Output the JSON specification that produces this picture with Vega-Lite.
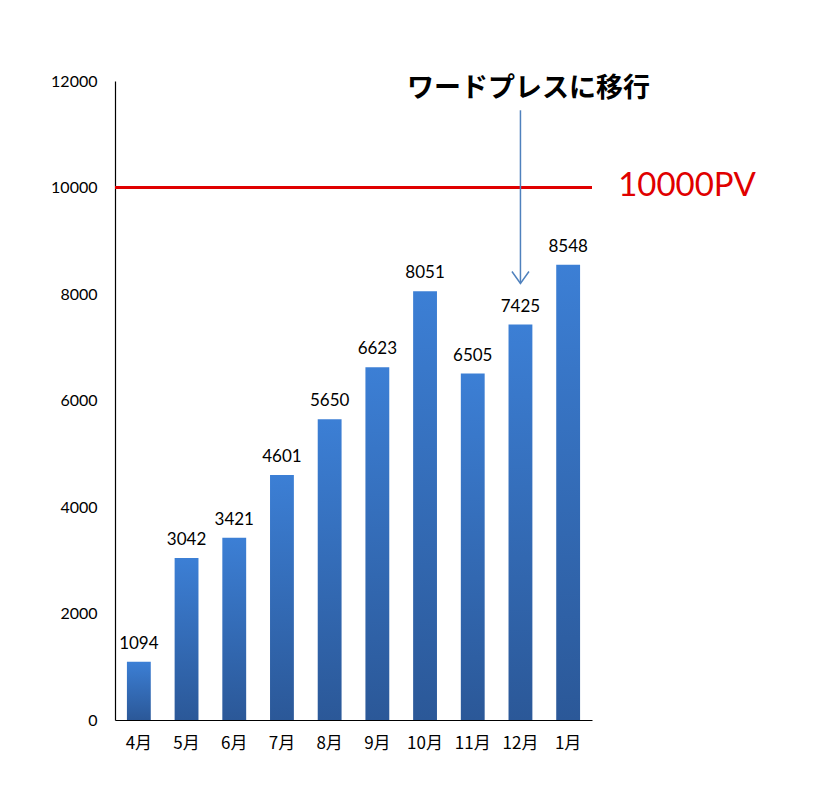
{
  "$schema": "https://vega.github.io/schema/vega-lite/v6.json",
  "width": 477,
  "height": 639,
  "autosize": "none",
  "padding": {"left": 115, "top": 81, "right": 223, "bottom": 83},
  "background": "white",
  "config": {"view": {"stroke": null}, "font": "Lato, Noto Sans CJK JP"},
  "datasets": {
    "pv": [
      {"month": "4月", "pv": 1094},
      {"month": "5月", "pv": 3042},
      {"month": "6月", "pv": 3421},
      {"month": "7月", "pv": 4601},
      {"month": "8月", "pv": 5650},
      {"month": "9月", "pv": 6623},
      {"month": "10月", "pv": 8051},
      {"month": "11月", "pv": 6505},
      {"month": "12月", "pv": 7425},
      {"month": "1月", "pv": 8548}
    ],
    "target": [{"month": "1月", "value": 10000, "label": "10000PV"}],
    "note": [{"month": "12月", "top": 11450, "bottom": 8200, "titley": 11850, "label": "ワードプレスに移行"}]
  },
  "layer": [
    {
      "data": {"name": "pv"},
      "mark": {
        "type": "bar",
        "color": {
          "gradient": "linear", "x1": 0, "y1": 0, "x2": 0, "y2": 1,
          "stops": [{"offset": 0, "color": "#3C7FD5"}, {"offset": 1, "color": "#2B5898"}]
        }
      },
      "encoding": {
        "x": {
          "field": "month", "type": "nominal", "sort": null,
          "scale": {"paddingInner": 0.5, "paddingOuter": 0.25},
          "axis": {"title": null, "labelAngle": 0, "ticks": false, "labelPadding": 15, "labelFontSize": 17, "labelColor": "#000", "domainColor": "#000", "domainWidth": 1.2, "labelFont": "Noto Sans CJK JP"}
        },
        "y": {
          "field": "pv", "type": "quantitative",
          "scale": {"domain": [0, 12000]},
          "axis": {"title": null, "values": [0, 2000, 4000, 6000, 8000, 10000, 12000], "format": "d", "ticks": false, "grid": false, "labelPadding": 18, "labelFontSize": 16, "labelColor": "#000", "domainColor": "#000", "domainWidth": 1.2}
        }
      }
    },
    {
      "data": {"name": "pv"},
      "mark": {"type": "text", "baseline": "bottom", "dy": -9, "fontSize": 17, "color": "#000"},
      "encoding": {
        "x": {"field": "month", "type": "nominal", "sort": null},
        "y": {"field": "pv", "type": "quantitative"},
        "text": {"field": "pv", "type": "quantitative", "format": "d"}
      }
    },
    {
      "data": {"name": "target"},
      "mark": {"type": "rule", "color": "#E00000", "strokeWidth": 3},
      "encoding": {"y": {"field": "value", "type": "quantitative"}}
    },
    {
      "data": {"name": "target"},
      "mark": {"type": "text", "align": "left", "baseline": "middle", "dx": 50, "dy": -2, "fontSize": 33, "color": "#E00000"},
      "encoding": {
        "x": {"field": "month", "type": "nominal", "sort": null},
        "y": {"field": "value", "type": "quantitative"},
        "text": {"field": "label"}
      }
    },
    {
      "data": {"name": "note"},
      "mark": {"type": "rule", "color": "#4F81BD", "strokeWidth": 1.5},
      "encoding": {
        "x": {"field": "month", "type": "nominal", "sort": null},
        "y": {"field": "top", "type": "quantitative"},
        "y2": {"field": "bottom"}
      }
    },
    {
      "data": {"name": "note"},
      "mark": {"type": "point", "shape": "M-1,-1.4L0,0L1,-1.4", "filled": false, "color": "#4F81BD", "strokeWidth": 1.5, "size": 289, "opacity": 1},
      "encoding": {
        "x": {"field": "month", "type": "nominal", "sort": null},
        "y": {"field": "bottom", "type": "quantitative"}
      }
    },
    {
      "data": {"name": "note"},
      "mark": {"type": "text", "align": "center", "baseline": "middle", "dx": 8, "fontSize": 27, "fontWeight": "bold", "color": "#000", "font": "Noto Sans CJK JP"},
      "encoding": {
        "x": {"field": "month", "type": "nominal", "sort": null},
        "y": {"field": "titley", "type": "quantitative"},
        "text": {"field": "label"}
      }
    }
  ]
}
